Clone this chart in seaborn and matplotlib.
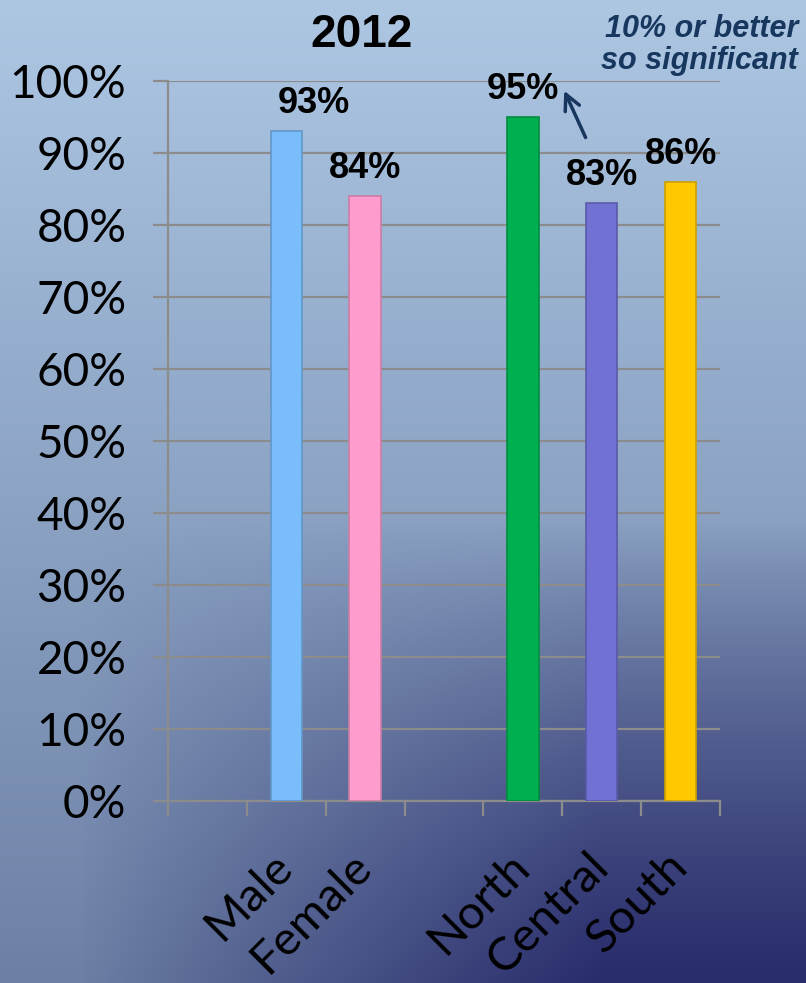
import numpy as np
import pandas as pd
import matplotlib
matplotlib.use("Agg")
import matplotlib.pyplot as plt
import seaborn as sns
from matplotlib.colors import to_rgb

# ---- data ----
categories = ["", "Male", "Female", " ", "North", "Central", "South"]
bar_cats = ["Male", "Female", "North", "Central", "South"]
values = [93, 84, 95, 83, 86]
bar_colors = ["#79BDFB", "#FF9CCE", "#00B050", "#7171D3", "#FFC800"]
yticks = [0, 10, 20, 30, 40, 50, 60, 70, 80, 90, 100]
ytick_labels = [f"{v}%" for v in yticks]
title = "2012"
note = "10% or better\nso significant"

sns.set_theme(style="white")
plt.rcParams["font.family"] = ["Lato", "DejaVu Sans"]

W, H = 806, 983
fig = plt.figure(figsize=(W / 100, H / 100), dpi=100)

# ---- background gradient ----
yy, xx = np.mgrid[0:H, 0:W]
yf = yy / (H - 1)
top = np.array(to_rgb("#ADC7E3"))
bot = np.array(to_rgb("#6C80A5"))
dark = np.array(to_rgb("#292C6B"))
base = top[None, None, :] * (1 - yf[..., None]) + bot[None, None, :] * yf[..., None]
wy = np.clip((yy - 520) / 460, 0, 1)
wx = np.clip((xx - 80) / 520, 0, 1)
w = (wy * wx) ** 0.9
img = base * (1 - w[..., None]) + dark[None, None, :] * w[..., None]
bg = fig.add_axes([0, 0, 1, 1], zorder=-10)
bg.imshow(img, aspect="auto", extent=[0, 1, 0, 1], origin="upper")
bg.axis("off")

# ---- main axes ----
ax = fig.add_axes([168 / W, 1 - 801 / H, (720 - 168) / W, (801 - 81) / H])
ax.patch.set_alpha(0)

df = pd.DataFrame({"cat": bar_cats, "val": values})
palette = {c: "#ffffff" for c in categories}
palette.update(dict(zip(bar_cats, bar_colors)))
sns.barplot(data=df, x="cat", y="val", hue="cat", order=categories,
            hue_order=categories, palette=palette, width=0.4,
            saturation=1, legend=False, ax=ax, zorder=3)

for p in ax.patches:
    fc = np.array(p.get_facecolor()[:3])
    p.set_edgecolor(tuple(fc * 0.8))
    p.set_linewidth(1.2)

ax.set_xlim(-0.5, 6.5)
ax.set_ylim(0, 100)
ax.set_xlabel("")
ax.set_ylabel("")

grid_c = "#8C8C8C"
ax.set_yticks(yticks)
ax.set_yticklabels(ytick_labels)
ax.yaxis.grid(True, color=grid_c, lw=1.6, zorder=0)
ax.set_axisbelow(True)
ax.tick_params(axis="y", which="major", length=11, width=1.6, color=grid_c,
               direction="out", pad=19, labelsize=33, labelcolor="black", left=True)
for lab in ax.get_yticklabels():
    lab.set_fontweight("normal")

ax.set_xticks(range(len(categories)))
ax.set_xticklabels(categories)
ax.set_xticks(np.arange(-0.5, len(categories), 1), minor=True)
ax.tick_params(axis="x", which="major", length=0, pad=42, labelsize=34,
               labelcolor="black", bottom=True)
ax.tick_params(axis="x", which="minor", length=11, width=1.6, color=grid_c,
               direction="out", bottom=True)
for lab in ax.get_xticklabels():
    lab.set_rotation(45)
    lab.set_ha("right")
    lab.set_va("center")
    lab.set_rotation_mode("anchor")
    lab.set_fontweight("normal")

for s in ["top", "right"]:
    ax.spines[s].set_visible(False)
for s in ["left", "bottom"]:
    ax.spines[s].set_color(grid_c)
    ax.spines[s].set_linewidth(1.6)

# ---- value labels ----
x_offsets = {"Male": 20}
for c, v in zip(bar_cats, values):
    xi = categories.index(c)
    ax.annotate(f"{v}%", (xi, v), xytext=(x_offsets.get(c, 0), 13),
                textcoords="offset points", ha="center", va="baseline",
                fontsize=26, fontweight="bold", family="Liberation Sans",
                color="black", zorder=5, annotation_clip=False)

# ---- title and note ----
fig.text(362 / W, 1 - 35 / H, title, ha="center", va="center", fontsize=33,
         fontweight="bold", family="Liberation Sans", color="black")
fig.text(798 / W, 1 - 45 / H, note, ha="right", va="center", fontsize=22,
         fontweight="bold", style="italic", family="Liberation Sans",
         color="#17375E", linespacing=1.1, multialignment="right")

ax.annotate("", xy=(4.51, 99.0), xytext=(4.81, 91.8),
            arrowprops=dict(arrowstyle="->", color="#17375E", lw=2.5,
                            mutation_scale=28),
            annotation_clip=False, zorder=6)

fig.savefig("out.png", dpi=100)
